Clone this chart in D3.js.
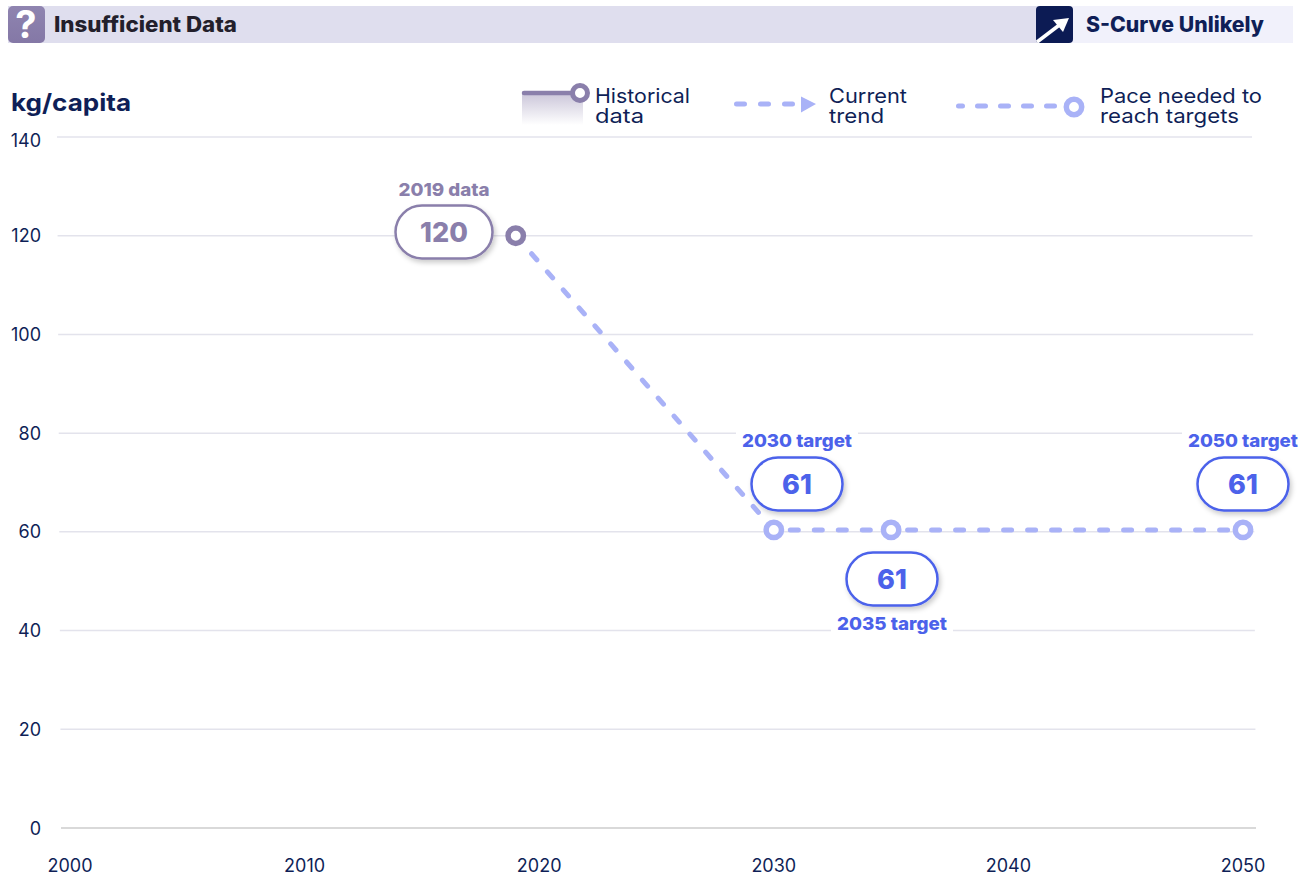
<!DOCTYPE html>
<html><head><meta charset="utf-8">
<script src="https://cdn.jsdelivr.net/npm/d3@7/dist/d3.min.js"></script>
<style>html,body{margin:0;padding:0;background:#fff;overflow:hidden}svg{display:block}text{font-family:Inter,"Noto Sans",sans-serif}</style>
</head><body><svg id="c" width="1308" height="877"></svg>
<script>
const yTicks=[0,20,40,60,80,100,120,140];
const xTicks=[2000,2010,2020,2030,2040,2050];
const paceYears=[2019,2030,2035,2050];
const paceValues=[120,60.4,60.4,60.4];
const historicalYear=[2019];
const historicalValue=[120];
const targetLabels=["2030 target","2035 target","2050 target"];
const targetValues=["61","61","61"];
const navy="#0f1f57",purple="#8a7fab",blue="#4c62ea",pale="#a9b2f7",grid="#e3e3ec";
const svg=d3.select("#c");
const x=d3.scaleLinear().domain([2000,2050]).range([70,1243]);
const y=d3.scaleLinear().domain([0,140]).range([828,137]);
const defs=svg.append("defs");
const g1=defs.append("linearGradient").attr("id","histFade").attr("x1",0).attr("x2",0).attr("y1",0).attr("y2",1);
g1.append("stop").attr("offset",0).attr("stop-color",purple).attr("stop-opacity",.45);
g1.append("stop").attr("offset",1).attr("stop-color",purple).attr("stop-opacity",0);
const g2=defs.append("linearGradient").attr("id","iconFill").attr("x1",0).attr("x2",0).attr("y1",0).attr("y2",1);
g2.append("stop").attr("offset",0).attr("stop-color","#8f84b0");
g2.append("stop").attr("offset",1).attr("stop-color","#8478a6");
const f=defs.append("filter").attr("id","sh").attr("x","-20%").attr("y","-30%").attr("width","140%").attr("height","170%");
f.append("feDropShadow").attr("dx",2).attr("dy",3).attr("stdDeviation",2.5).attr("flood-color","#000").attr("flood-opacity",.2);

// header
svg.append("rect").attr("x",8).attr("y",6).attr("width",1030).attr("height",37).attr("fill","#dfdeee");
svg.append("rect").attr("x",1038).attr("y",6).attr("width",255).attr("height",37).attr("fill","#f1f1fb");
svg.append("rect").attr("x",8).attr("y",6).attr("width",37).attr("height",37).attr("rx",5).attr("fill","url(#iconFill)");
svg.append("text").attr("x",26).attr("y",38).attr("text-anchor","middle").attr("font-size",38).attr("font-weight",700).attr("fill","#fff").text("?");
svg.append("text").attr("x",54).attr("y",32).attr("font-size",21).attr("font-weight",800).attr("fill","#231f2b").attr("textLength",183).attr("lengthAdjust","spacingAndGlyphs").text("Insufficient Data");
svg.append("rect").attr("x",1036).attr("y",6).attr("width",37).attr("height",37).attr("rx",4).attr("fill","#0c1b54");
svg.append("path").attr("d","M1037,42 L1062,23").attr("stroke","#fff").attr("stroke-width",3.5).attr("fill","none");
svg.append("path").attr("d","M1069,18 L1063,32 L1053,20 Z").attr("fill","#fff");
svg.append("text").attr("x",1086).attr("y",32).attr("font-size",21).attr("font-weight",800).attr("fill",navy).attr("textLength",178).attr("lengthAdjust","spacingAndGlyphs").text("S-Curve Unlikely");

svg.append("text").attr("x",11).attr("y",111).attr("font-size",24).attr("font-weight",700).attr("fill",navy).attr("textLength",120).attr("lengthAdjust","spacingAndGlyphs").text("kg/capita");

// grid: reference lines lean slightly, so start and end drift with the value
const lean=d3.scaleLinear().domain([140,0]).range([0,4]);
svg.append("g").selectAll("line").data(yTicks).join("line")
 .attr("x1",d=>57+lean(d)).attr("x2",d=>1252+lean(d)).attr("y1",d=>y(d)).attr("y2",d=>y(d))
 .attr("stroke",d=>d===0?"#d9d9d9":grid).attr("stroke-width",d=>d===0?2:1.5);
svg.append("g").selectAll("text").data(yTicks).join("text")
 .attr("x",41).attr("y",d=>y(d)+(d===140?10:6.5)).attr("text-anchor","end").attr("font-size",18).attr("fill",navy).text(d=>d);
svg.append("g").selectAll("text").data(xTicks).join("text")
 .attr("x",d=>x(d)).attr("y",872).attr("text-anchor","middle").attr("font-size",18).attr("fill",navy).text(d=>d);

// legend
svg.append("rect").attr("x",522).attr("y",93).attr("width",61).attr("height",32).attr("fill","url(#histFade)");
svg.append("line").attr("x1",524).attr("x2",575).attr("y1",93).attr("y2",93).attr("stroke",purple).attr("stroke-width",4.5).attr("stroke-linecap","round");
svg.append("circle").attr("cx",580).attr("cy",93).attr("r",7.5).attr("fill","#fff").attr("stroke",purple).attr("stroke-width",5);
function legendText(xp,a,b,wa,wb){
 svg.append("text").attr("x",xp).attr("y",103).attr("font-size",20).attr("fill",navy).attr("textLength",wa).attr("lengthAdjust","spacingAndGlyphs").text(a);
 svg.append("text").attr("x",xp).attr("y",123).attr("font-size",20).attr("fill",navy).attr("textLength",wb).attr("lengthAdjust","spacingAndGlyphs").text(b);
}
legendText(595,"Historical","data",95,49);
legendText(829,"Current","trend",78,55);
legendText(1100,"Pace needed to","reach targets",162,139);
const dashAttrs=s=>s.attr("fill","none").attr("stroke",pale).attr("stroke-width",5).attr("stroke-linecap","round").attr("stroke-dasharray","8 16");
dashAttrs(svg.append("line").attr("x1",736.5).attr("x2",795).attr("y1",104).attr("y2",104));
svg.append("path").attr("d","M801,96.5 L816,104 L801,112.5 Z").attr("fill",pale);
dashAttrs(svg.append("line").attr("x1",958.5).attr("x2",1060).attr("y1",106).attr("y2",106)).attr("stroke-dasharray","8 15").attr("stroke-dashoffset",4);
svg.append("circle").attr("cx",1074).attr("cy",107).attr("r",7.7).attr("fill","#fff").attr("stroke",pale).attr("stroke-width",5.5);

// series: each stretch restarts its own dash pattern at the point it leaves
const pts=paceYears.map((d,i)=>[d,paceValues[i]]);
const lineGen=d3.line().x(d=>x(d[0])).y(d=>y(d[1]));
const segs=d3.pairs(pts);
svg.append("g").selectAll("path").data(segs).join("path").attr("d",lineGen).call(dashAttrs)
 .attr("stroke-dashoffset",(d,i)=>i===0?0:7.5);
svg.append("g").selectAll("circle").data(pts.slice(1)).join("circle")
 .attr("cx",d=>x(d[0])).attr("cy",d=>y(d[1])).attr("r",7.7).attr("fill","#fff").attr("stroke",pale).attr("stroke-width",5.5);
svg.append("g").selectAll("circle").data(historicalYear).join("circle")
 .attr("cx",d=>x(d)).attr("cy",y(historicalValue[0])).attr("r",7.7).attr("fill","#fff").attr("stroke",purple).attr("stroke-width",5.5);

// callouts
function callout(px,py,w,value,cap,capY,col){
 const h=53;
 svg.append("rect").attr("x",px-w/2).attr("y",py-h/2).attr("width",w).attr("height",h).attr("rx",26.5).attr("fill","#fff").attr("stroke",col).attr("stroke-width",2.5).attr("filter","url(#sh)");
 svg.append("text").attr("x",px).attr("y",py+10).attr("text-anchor","middle").attr("font-size",27).attr("font-weight",800).attr("fill",col).text(value);
 const tw=cap.length*10;
 svg.append("rect").attr("x",px-tw/2-6).attr("y",capY-16).attr("width",tw+12).attr("height",22).attr("fill","#fff");
 svg.append("text").attr("x",px).attr("y",capY).attr("text-anchor","middle").attr("font-size",18).attr("font-weight",800).attr("fill",col).attr("textLength",cap==="2019 data"?91:110).attr("lengthAdjust","spacingAndGlyphs").text(cap);
}
callout(444,232,97,String(historicalValue[0]),"2019 data",196,purple);
callout(797,484,91,targetValues[0],targetLabels[0],447,blue);
callout(892,579,91,targetValues[1],targetLabels[1],630,blue);
callout(1243,484,91,targetValues[2],targetLabels[2],447,blue);
</script></body></html>
